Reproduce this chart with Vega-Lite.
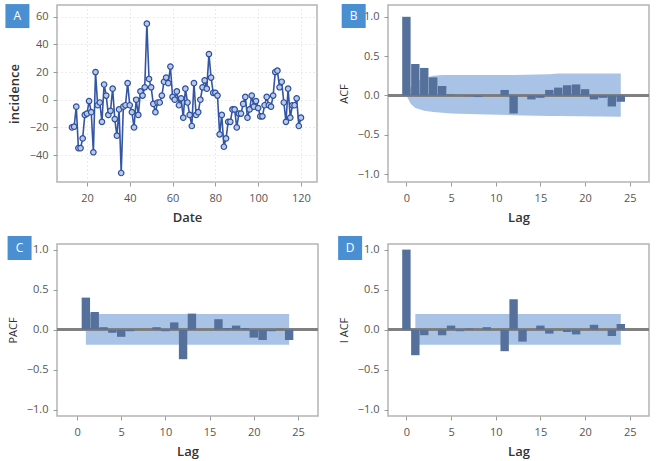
{
  "$schema": "https://vega.github.io/schema/vega-lite/v6.json",
  "background": "white",
  "padding": {"left": 4, "top": 3, "right": 5, "bottom": 5},
  "columns": 2,
  "spacing": {"row": 10, "column": 17},
  "datasets": {
    "ts": [
      {"Date":13,"incidence":-20},{"Date":14,"incidence":-19.5},{"Date":15,"incidence":-5},{"Date":16,"incidence":-35},{"Date":17,"incidence":-35},{"Date":18,"incidence":-28},{"Date":19,"incidence":-11},{"Date":20,"incidence":-10},{"Date":21,"incidence":-1},{"Date":22,"incidence":-9},
      {"Date":23,"incidence":-38},{"Date":24,"incidence":20},{"Date":25,"incidence":-4},{"Date":26,"incidence":-2},{"Date":27,"incidence":-16},{"Date":28,"incidence":11},{"Date":29,"incidence":3},{"Date":30,"incidence":-11},{"Date":31,"incidence":-8},{"Date":32,"incidence":8},
      {"Date":33,"incidence":-14},{"Date":34,"incidence":-26},{"Date":35,"incidence":-7},{"Date":36,"incidence":-53},{"Date":37,"incidence":-5},{"Date":38,"incidence":-4},{"Date":39,"incidence":12},{"Date":40,"incidence":-4},{"Date":41,"incidence":-9},{"Date":42,"incidence":-20},
      {"Date":43,"incidence":0},{"Date":44,"incidence":-11},{"Date":45,"incidence":6},{"Date":46,"incidence":3},{"Date":47,"incidence":9},{"Date":48,"incidence":55},{"Date":49,"incidence":15},{"Date":50,"incidence":9},{"Date":51,"incidence":-3},{"Date":52,"incidence":-9},
      {"Date":53,"incidence":-2},{"Date":54,"incidence":-2},{"Date":55,"incidence":3},{"Date":56,"incidence":13},{"Date":57,"incidence":16},{"Date":58,"incidence":12},{"Date":59,"incidence":24},{"Date":60,"incidence":2},{"Date":61,"incidence":0},{"Date":62,"incidence":6},
      {"Date":63,"incidence":-4},{"Date":64,"incidence":1},{"Date":65,"incidence":-13},{"Date":66,"incidence":8},{"Date":67,"incidence":-2},{"Date":68,"incidence":-11},{"Date":69,"incidence":-19},{"Date":70,"incidence":12},{"Date":71,"incidence":-11},{"Date":72,"incidence":-9},
      {"Date":73,"incidence":0},{"Date":74,"incidence":9},{"Date":75,"incidence":14},{"Date":76,"incidence":8},{"Date":77,"incidence":33},{"Date":78,"incidence":16},{"Date":79,"incidence":5},{"Date":80,"incidence":5},{"Date":81,"incidence":3},{"Date":82,"incidence":-25},
      {"Date":83,"incidence":-11},{"Date":84,"incidence":-34},{"Date":85,"incidence":-28},{"Date":86,"incidence":-16},{"Date":87,"incidence":-16},{"Date":88,"incidence":-7},{"Date":89,"incidence":-7},{"Date":90,"incidence":-20},{"Date":91,"incidence":-10},{"Date":92,"incidence":-10},
      {"Date":93,"incidence":-3},{"Date":94,"incidence":2},{"Date":95,"incidence":-13},{"Date":96,"incidence":-7},{"Date":97,"incidence":3},{"Date":98,"incidence":-5},{"Date":99,"incidence":-1},{"Date":100,"incidence":-6},{"Date":101,"incidence":-12},{"Date":102,"incidence":-12},
      {"Date":103,"incidence":-4},{"Date":104,"incidence":2},{"Date":105,"incidence":-4},{"Date":106,"incidence":-5},{"Date":107,"incidence":3},{"Date":108,"incidence":20},{"Date":109,"incidence":21},{"Date":110,"incidence":9},{"Date":111,"incidence":13},{"Date":112,"incidence":-2},
      {"Date":113,"incidence":-16},{"Date":114,"incidence":8},{"Date":115,"incidence":-13},{"Date":116,"incidence":-4},{"Date":117,"incidence":-4},{"Date":118,"incidence":1},{"Date":119,"incidence":-19},{"Date":120,"incidence":-13}
    ],
    "acf": [
      {"Lag":0,"v":1.0},{"Lag":1,"v":0.40},{"Lag":2,"v":0.35},{"Lag":3,"v":0.23},{"Lag":4,"v":0.12},{"Lag":5,"v":0.01},{"Lag":6,"v":0.005},{"Lag":7,"v":-0.01},{"Lag":8,"v":-0.02},{"Lag":9,"v":0.003},
      {"Lag":10,"v":-0.005},{"Lag":11,"v":0.07},{"Lag":12,"v":-0.23},{"Lag":13,"v":0.005},{"Lag":14,"v":-0.05},{"Lag":15,"v":-0.03},{"Lag":16,"v":0.07},{"Lag":17,"v":0.10},{"Lag":18,"v":0.13},{"Lag":19,"v":0.14},
      {"Lag":20,"v":0.08},{"Lag":21,"v":-0.05},{"Lag":22,"v":-0.03},{"Lag":23,"v":-0.14},{"Lag":24,"v":-0.08}
    ],
    "acfband": [
      {"Lag":0,"lo":0,"hi":0},{"Lag":0.5,"lo":-0.11,"hi":0.11},{"Lag":1,"lo":-0.16,"hi":0.17},{"Lag":2,"lo":-0.195,"hi":0.22},{"Lag":3,"lo":-0.21,"hi":0.25},{"Lag":4,"lo":-0.22,"hi":0.26},{"Lag":5,"lo":-0.23,"hi":0.26},
      {"Lag":8,"lo":-0.24,"hi":0.26},{"Lag":12,"lo":-0.25,"hi":0.26},{"Lag":16,"lo":-0.26,"hi":0.27},{"Lag":17,"lo":-0.26,"hi":0.28},{"Lag":24,"lo":-0.27,"hi":0.28}
    ],
    "pacf": [
      {"Lag":1,"v":0.40},{"Lag":2,"v":0.22},{"Lag":3,"v":0.03},{"Lag":4,"v":-0.04},{"Lag":5,"v":-0.09},{"Lag":6,"v":-0.02},{"Lag":7,"v":0.003},{"Lag":8,"v":0.002},{"Lag":9,"v":0.03},{"Lag":10,"v":-0.02},
      {"Lag":11,"v":0.09},{"Lag":12,"v":-0.37},{"Lag":13,"v":0.20},{"Lag":14,"v":0.003},{"Lag":15,"v":0.002},{"Lag":16,"v":0.13},{"Lag":17,"v":0.02},{"Lag":18,"v":0.05},{"Lag":19,"v":0.02},{"Lag":20,"v":-0.10},
      {"Lag":21,"v":-0.13},{"Lag":22,"v":-0.02},{"Lag":23,"v":0.01},{"Lag":24,"v":-0.13}
    ],
    "iacf": [
      {"Lag":0,"v":1.0},{"Lag":1,"v":-0.32},{"Lag":2,"v":-0.07},{"Lag":3,"v":0.003},{"Lag":4,"v":-0.07},{"Lag":5,"v":0.05},{"Lag":6,"v":-0.02},{"Lag":7,"v":0.015},{"Lag":8,"v":0.003},{"Lag":9,"v":0.03},
      {"Lag":10,"v":0.003},{"Lag":11,"v":-0.27},{"Lag":12,"v":0.38},{"Lag":13,"v":-0.15},{"Lag":14,"v":0.003},{"Lag":15,"v":0.05},{"Lag":16,"v":-0.05},{"Lag":17,"v":0.003},{"Lag":18,"v":-0.03},{"Lag":19,"v":-0.06},
      {"Lag":20,"v":0.003},{"Lag":21,"v":0.06},{"Lag":22,"v":0.003},{"Lag":23,"v":-0.08},{"Lag":24,"v":0.07}
    ],
    "band19": [{"Lag":1,"lo":-0.19,"hi":0.195},{"Lag":24,"lo":-0.19,"hi":0.195}],
    "badgeA": [{"label":"A"}],
    "badgeB": [{"label":"B"}],
    "badgeC": [{"label":"C"}],
    "badgeD": [{"label":"D"}]
  },
  "config": {
    "font": "Open Sans",
    "view": {"stroke": "#b4b4b4", "strokeWidth": 1.5},
    "axis": {
      "domain": false,
      "tickColor": "#9a9a9a",
      "tickSize": 4,
      "labelColor": "#555555",
      "labelFontSize": 11,
      "labelPadding": 6,
      "labelOverlap": false,
      "labelFlush": false,
      "titleColor": "#333333",
      "titleFontSize": 13,
      "titleFontWeight": "normal",
      "grid": false
    },
    "axisY": {"labelPadding": 5}
  },
  "concat": [
    {
      "width": 260,
      "height": 177,
      "encoding": {
        "x": {"type": "quantitative", "scale": {"domain": [6, 127.5], "nice": false, "zero": false},
              "axis": {"values": [20, 40, 60, 80, 100, 120], "grid": true, "gridColor": "#d8d8d8", "gridDash": [1, 3], "title": "Date", "titleFontWeight": 600, "titlePadding": 8}},
        "y": {"type": "quantitative", "scale": {"domain": [-59.5, 68.5], "nice": false, "zero": false},
              "axis": {"values": [-40, -20, 0, 20, 40, 60], "tickCount": 7, "labelOverlap": false, "grid": true, "gridColor": "#d8d8d8", "gridDash": [1, 3], "title": "incidence", "titleFontWeight": 600, "titlePadding": 8}}
      },
      "layer": [
        {
          "data": {"name": "ts"},
          "mark": {"type": "line", "color": "#3455a4", "strokeWidth": 1.6},
          "encoding": {"x": {"field": "Date"}, "y": {"field": "incidence"}}
        },
        {
          "data": {"name": "ts"},
          "mark": {"type": "point", "shape": "circle", "filled": true, "fill": "#b9c9e8", "stroke": "#2d4f9e", "strokeWidth": 1.2, "size": 30, "opacity": 1},
          "encoding": {"x": {"field": "Date"}, "y": {"field": "incidence"}}
        },
        {
          "data": {"name": "badgeA"},
          "mark": {"type": "point", "shape": "square", "filled": true, "color": "#4b8fd3", "size": 576, "opacity": 1, "clip": false},
          "encoding": {"x": {"datum": -12.5}, "y": {"datum": 60.5}}
        },
        {
          "data": {"name": "badgeA"},
          "mark": {"type": "text", "color": "white", "fontSize": 12, "clip": false},
          "encoding": {"x": {"datum": -12.5}, "y": {"datum": 60.5}, "text": {"field": "label"}}
        }
      ]
    },
    {
      "width": 261,
      "height": 177,
      "layer": [
        {
          "data": {"name": "acfband"},
          "mark": {"type": "area", "color": "#a9c3e6", "opacity": 1},
          "encoding": {
            "x": {"field": "Lag", "type": "quantitative", "scale": {"domain": [-1.5, 26.6], "nice": false},
                  "axis": {"values": [0, 5, 10, 15, 20, 25], "title": "Lag", "titleFontWeight": 600, "titlePadding": 8}},
            "y": {"field": "lo", "type": "quantitative", "scale": {"domain": [-1.1, 1.15], "nice": false},
                  "axis": {"values": [-1, -0.5, 0, 0.5, 1], "format": ".1f", "title": "ACF", "titleFontSize": 11, "titlePadding": 8}},
            "y2": {"field": "hi"}
          }
        },
        {
          "data": {"name": "acf"},
          "mark": {"type": "rule", "color": "#808080", "strokeWidth": 1.5},
          "encoding": {"y": {"datum": 0, "type": "quantitative"}}
        },
        {
          "data": {"name": "acf"},
          "mark": {"type": "bar", "color": "#55709a", "size": 8.4},
          "encoding": {
            "x": {"field": "Lag", "type": "quantitative"},
            "y": {"field": "v", "type": "quantitative"},
            "y2": {"datum": 0}
          }
        },
        {
          "data": {"name": "badgeB"},
          "mark": {"type": "point", "shape": "square", "filled": true, "color": "#4b8fd3", "size": 576, "opacity": 1, "clip": false},
          "encoding": {"x": {"datum": -5.9, "type": "quantitative"}, "y": {"datum": 1.01, "type": "quantitative"}}
        },
        {
          "data": {"name": "badgeB"},
          "mark": {"type": "text", "color": "white", "fontSize": 12, "clip": false},
          "encoding": {"x": {"datum": -5.9, "type": "quantitative"}, "y": {"datum": 1.01, "type": "quantitative"}, "text": {"field": "label"}}
        }
      ]
    },
    {
      "width": 261,
      "height": 172,
      "layer": [
        {
          "data": {"name": "band19"},
          "mark": {"type": "area", "color": "#a9c3e6", "opacity": 1},
          "encoding": {
            "x": {"field": "Lag", "type": "quantitative", "scale": {"domain": [-1.7, 26.7], "nice": false},
                  "axis": {"values": [0, 5, 10, 15, 20, 25], "title": "Lag", "titleFontWeight": 600, "titlePadding": 8}},
            "y": {"field": "lo", "type": "quantitative", "scale": {"domain": [-1.08, 1.07], "nice": false},
                  "axis": {"values": [-1, -0.5, 0, 0.5, 1], "format": ".1f", "title": "PACF", "titleFontSize": 11, "titlePadding": 8}},
            "y2": {"field": "hi"}
          }
        },
        {
          "data": {"name": "pacf"},
          "mark": {"type": "rule", "color": "#808080", "strokeWidth": 1.5},
          "encoding": {"y": {"datum": 0, "type": "quantitative"}}
        },
        {
          "data": {"name": "pacf"},
          "mark": {"type": "bar", "color": "#55709a", "size": 8.4},
          "encoding": {
            "x": {"field": "Lag", "type": "quantitative"},
            "y": {"field": "v", "type": "quantitative"},
            "y2": {"datum": 0}
          }
        },
        {
          "data": {"name": "badgeC"},
          "mark": {"type": "point", "shape": "square", "filled": true, "color": "#4b8fd3", "size": 576, "opacity": 1, "clip": false},
          "encoding": {"x": {"datum": -6.5, "type": "quantitative"}, "y": {"datum": 1.02, "type": "quantitative"}}
        },
        {
          "data": {"name": "badgeC"},
          "mark": {"type": "text", "color": "white", "fontSize": 12, "clip": false},
          "encoding": {"x": {"datum": -6.5, "type": "quantitative"}, "y": {"datum": 1.02, "type": "quantitative"}, "text": {"field": "label"}}
        }
      ]
    },
    {
      "width": 261,
      "height": 172,
      "layer": [
        {
          "data": {"name": "band19"},
          "mark": {"type": "area", "color": "#a9c3e6", "opacity": 1},
          "encoding": {
            "x": {"field": "Lag", "type": "quantitative", "scale": {"domain": [-1.5, 26.6], "nice": false},
                  "axis": {"values": [0, 5, 10, 15, 20, 25], "title": "Lag", "titleFontWeight": 600, "titlePadding": 8}},
            "y": {"field": "lo", "type": "quantitative", "scale": {"domain": [-1.08, 1.07], "nice": false},
                  "axis": {"values": [-1, -0.5, 0, 0.5, 1], "format": ".1f", "title": "I ACF", "titleFontSize": 11, "titlePadding": 8}},
            "y2": {"field": "hi"}
          }
        },
        {
          "data": {"name": "iacf"},
          "mark": {"type": "rule", "color": "#808080", "strokeWidth": 1.5},
          "encoding": {"y": {"datum": 0, "type": "quantitative"}}
        },
        {
          "data": {"name": "iacf"},
          "mark": {"type": "bar", "color": "#55709a", "size": 8.4},
          "encoding": {
            "x": {"field": "Lag", "type": "quantitative"},
            "y": {"field": "v", "type": "quantitative"},
            "y2": {"datum": 0}
          }
        },
        {
          "data": {"name": "badgeD"},
          "mark": {"type": "point", "shape": "square", "filled": true, "color": "#4b8fd3", "size": 576, "opacity": 1, "clip": false},
          "encoding": {"x": {"datum": -6.3, "type": "quantitative"}, "y": {"datum": 1.02, "type": "quantitative"}}
        },
        {
          "data": {"name": "badgeD"},
          "mark": {"type": "text", "color": "white", "fontSize": 12, "clip": false},
          "encoding": {"x": {"datum": -6.3, "type": "quantitative"}, "y": {"datum": 1.02, "type": "quantitative"}, "text": {"field": "label"}}
        }
      ]
    }
  ]
}
